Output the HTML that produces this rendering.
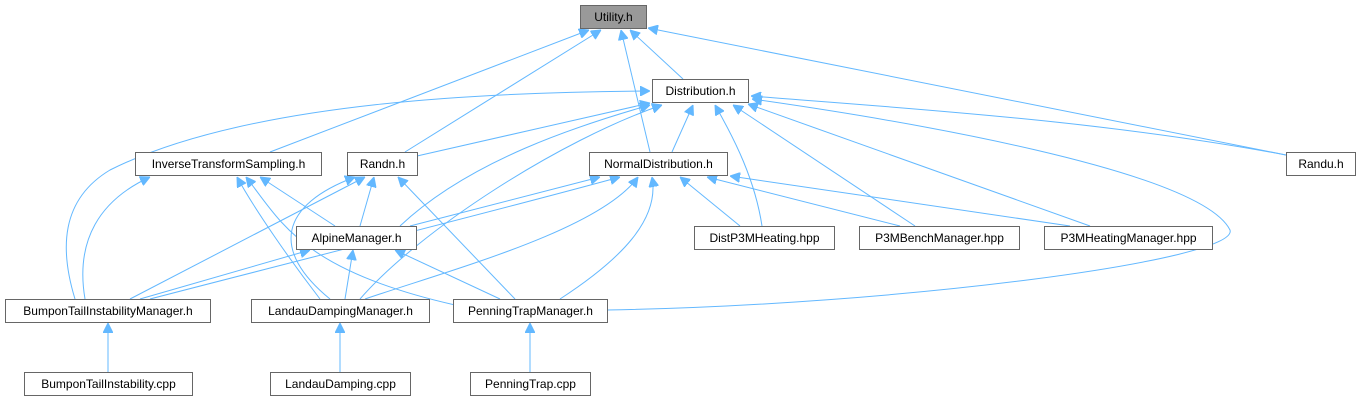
<!DOCTYPE html>
<html><head><meta charset="utf-8"><style>
html,body{margin:0;padding:0;background:#fff;width:1362px;height:403px;overflow:hidden}
svg{display:block}
text{font-family:"Liberation Sans",Helvetica,sans-serif;font-size:12px;fill:#000}
.n{fill:#fff;stroke:#666;stroke-width:1}
.e{fill:none;stroke:#63b8ff;stroke-width:1}
</style></head><body>
<svg width="1362" height="403" viewBox="0 0 1362 403" xmlns="http://www.w3.org/2000/svg">
<defs>
<marker id="a" viewBox="0 0 10 10" refX="10" refY="5" markerWidth="10" markerHeight="10" markerUnits="userSpaceOnUse" orient="auto">
<path d="M0,0 L10,5 L0,10 z" fill="#63b8ff" stroke="#63b8ff"/>
</marker>
</defs>
<g class="e" marker-end="url(#a)">
<path d="M683,79 L630,30"/>
<path d="M650,152 L621,30"/>
<path d="M270,152 L589,30"/>
<path d="M405,152 L601,30"/>
<path d="M1286,155 L648,28"/>
<path d="M1286,155 C1100,120 900,108 751,96"/>
<path d="M672,152 L693,105"/>
<path d="M417,156 L650,103"/>
<path d="M400,226 C470,160 580,125 650,105"/>
<path d="M360,299 C420,230 560,140 662,105"/>
<path d="M75,299 C60,250 60,200 110,170 C250,100 500,92 650,91"/>
<path d="M762,226 C755,180 735,140 715,105"/>
<path d="M915,226 L733,105"/>
<path d="M1090,226 L748,104"/>
<path d="M607,310 C900,305 1240,260 1230,230 C1200,170 900,120 752,99"/>
<path d="M85,299 C75,240 100,200 150,177"/>
<path d="M320,299 C290,260 255,210 237,177"/>
<path d="M455,305 C300,270 280,220 246,177"/>
<path d="M335,226 L260,177"/>
<path d="M130,299 L365,177"/>
<path d="M330,299 C270,250 280,205 355,177"/>
<path d="M360,226 L374,177"/>
<path d="M515,299 L398,177"/>
<path d="M410,226 L600,177"/>
<path d="M150,299 C300,260 500,210 620,177"/>
<path d="M365,299 C450,270 600,230 638,177"/>
<path d="M560,299 C620,260 660,220 652,177"/>
<path d="M740,226 L680,177"/>
<path d="M900,226 L707,177"/>
<path d="M1070,226 L730,176"/>
<path d="M140,299 L310,250"/>
<path d="M345,299 L353,250"/>
<path d="M500,299 L395,250"/>
<path d="M108,372 L108,323"/>
<path d="M340,372 L340,323"/>
<path d="M530,372 L530,323"/>
</g>
<rect x="580.5" y="5.5" width="66" height="23" fill="#999" stroke="#666"/><text x="613.5" y="21" text-anchor="middle">Utility.h</text>
<rect class="n" x="652.5" y="79.5" width="96" height="23"/><text x="700.5" y="95" text-anchor="middle">Distribution.h</text>
<rect class="n" x="135.5" y="152.5" width="186" height="23"/><text x="228.5" y="168" text-anchor="middle">InverseTransformSampling.h</text>
<rect class="n" x="347.5" y="152.5" width="70" height="23"/><text x="382.5" y="168" text-anchor="middle">Randn.h</text>
<rect class="n" x="589.5" y="152.5" width="138" height="23"/><text x="658.5" y="168" text-anchor="middle">NormalDistribution.h</text>
<rect class="n" x="1286.5" y="152.5" width="69" height="23"/><text x="1321" y="168" text-anchor="middle">Randu.h</text>
<rect class="n" x="296.5" y="226.5" width="120" height="23"/><text x="356.5" y="242" text-anchor="middle">AlpineManager.h</text>
<rect class="n" x="694.5" y="226.5" width="140" height="23"/><text x="764.5" y="242" text-anchor="middle">DistP3MHeating.hpp</text>
<rect class="n" x="859.5" y="226.5" width="160" height="23"/><text x="939.5" y="242" text-anchor="middle">P3MBenchManager.hpp</text>
<rect class="n" x="1044.5" y="226.5" width="168" height="23"/><text x="1128.5" y="242" text-anchor="middle">P3MHeatingManager.hpp</text>
<rect class="n" x="5.5" y="299.5" width="205" height="23"/><text x="108" y="315" text-anchor="middle">BumponTailInstabilityManager.h</text>
<rect class="n" x="251.5" y="299.5" width="178" height="23"/><text x="340.5" y="315" text-anchor="middle">LandauDampingManager.h</text>
<rect class="n" x="453.5" y="299.5" width="154" height="23"/><text x="530.5" y="315" text-anchor="middle">PenningTrapManager.h</text>
<rect class="n" x="24.5" y="372.5" width="168" height="23"/><text x="108.5" y="388" text-anchor="middle">BumponTailInstability.cpp</text>
<rect class="n" x="270.5" y="372.5" width="140" height="23"/><text x="340.5" y="388" text-anchor="middle">LandauDamping.cpp</text>
<rect class="n" x="470.5" y="372.5" width="120" height="23"/><text x="530.5" y="388" text-anchor="middle">PenningTrap.cpp</text>
</svg>
</body></html>
